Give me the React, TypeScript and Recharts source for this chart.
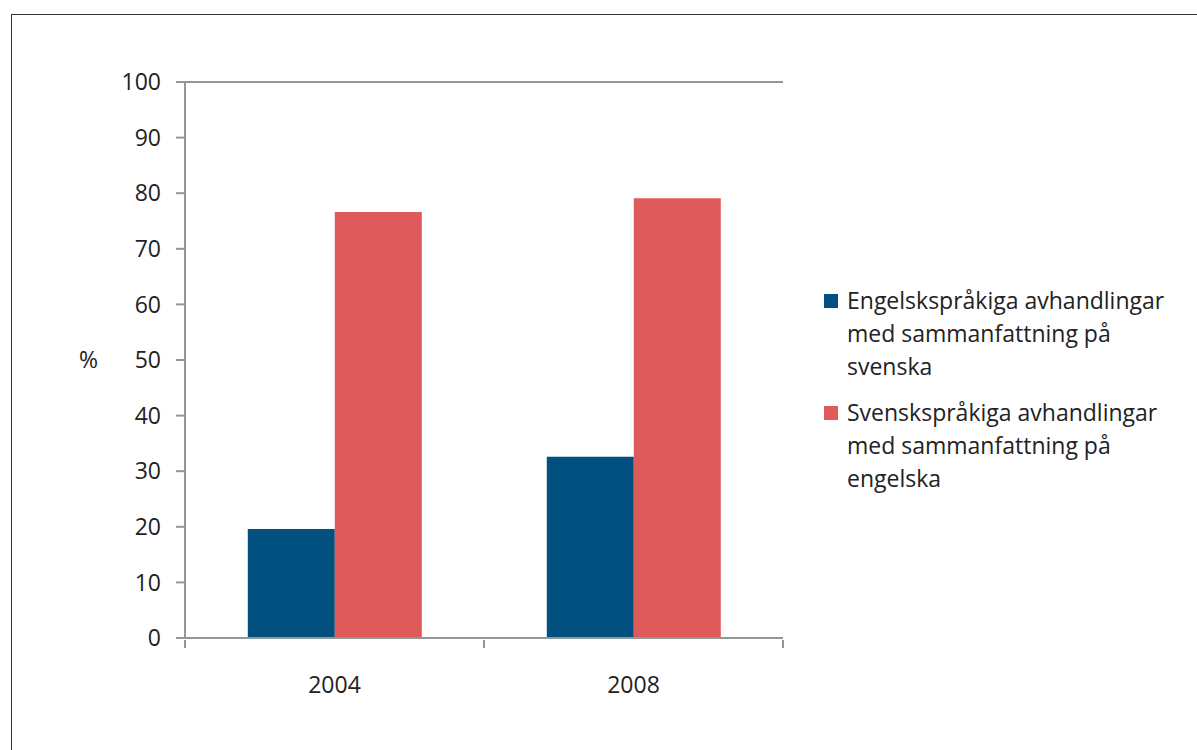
import React from 'react';
import {
  BarChart,
  Bar,
  XAxis,
  YAxis,
  CartesianGrid,
  Legend,
} from 'recharts';

const YEARS = ['2004', '2008'];
const ENG_WITH_SWE = [19.6, 32.6];
const SWE_WITH_ENG = [76.6, 79.1];
const Y_TICKS = [0, 10, 20, 30, 40, 50, 60, 70, 80, 90, 100];

const SERIES_NAMES = {
  eng: 'Engelskspråkiga avhandlingar med sammanfattning på svenska',
  swe: 'Svenskspråkiga avhandlingar med sammanfattning på engelska',
};

const BLUE = '#02507f';
const RED = '#de5a5b';
const GRID = '#8f9797';
const TEXT = '#222';
const FONT = '"Open Sans", "Noto Sans", sans-serif';
const LEGEND_W = 373;

const data = YEARS.map((year, i) => ({
  year,
  eng: ENG_WITH_SWE[i],
  swe: SWE_WITH_ENG[i],
}));

// x ticks sit between categories, like the old spreadsheet style
function YearTick(props: any) {
  const { x, y, payload, index } = props;
  const half = payload.offset ?? 0;
  const last = index === YEARS.length - 1;
  return (
    <g>
      <line x1={x - half} x2={x - half} y1={y} y2={y + 8} stroke={GRID} strokeWidth={2} />
      {last && (
        <line x1={x + half} x2={x + half} y1={y} y2={y + 8} stroke={GRID} strokeWidth={2} />
      )}
      <text x={x} y={y + 53} textAnchor="middle" fill={TEXT} fontSize={23} fontFamily={FONT}>
        {payload.value}
      </text>
    </g>
  );
}

function LegendBox(props: any) {
  const { payload } = props;
  return (
    <div style={{ fontFamily: FONT, fontSize: 23, color: TEXT, lineHeight: '33px' }}>
      {(payload || []).map((item: any) => (
        <div key={item.value} style={{ display: 'flex', alignItems: 'flex-start', marginBottom: 13 }}>
          <div
            style={{
              width: 14,
              height: 14,
              marginTop: 10,
              marginRight: 9,
              flexShrink: 0,
              backgroundColor: item.color,
            }}
          />
          <span style={{ width: 325 }}>{item.value}</span>
        </div>
      ))}
    </div>
  );
}

export default function App() {
  return (
    <div
      style={{
        position: 'absolute',
        left: 0,
        top: 0,
        width: 1197,
        height: 750,
        overflow: 'hidden',
        background: '#fff',
        fontFamily: FONT,
      }}
    >
      <div
        style={{
          position: 'absolute',
          left: 11,
          top: 14,
          width: 1250,
          height: 800,
          border: '1.5px solid #333',
        }}
      />
      <div style={{ position: 'absolute', left: 0, top: 0 }}>
        <BarChart
          width={1197}
          height={750}
          data={data}
          margin={{ top: 82, right: 414 - LEGEND_W, bottom: 72, left: 0 }}
          barCategoryGap="21%"
          barGap={0}
        >
          <CartesianGrid horizontal vertical={false} stroke={GRID} strokeWidth={2} />
          <XAxis
            dataKey="year"
            height={40}
            axisLine={{ stroke: GRID, strokeWidth: 2 }}
            tickLine={false}
            tickSize={0}
            tick={<YearTick />}
            interval={0}
          />
          <YAxis
            yAxisId="left"
            width={185}
            domain={[0, 100]}
            ticks={Y_TICKS}
            interval={0}
            axisLine={{ stroke: GRID, strokeWidth: 2 }}
            tickLine={{ stroke: GRID, strokeWidth: 2 }}
            tickSize={9}
            tickMargin={15}
            tick={{ fill: TEXT, fontSize: 23, fontFamily: FONT }}
            label={{
              value: '%',
              position: 'insideLeft',
              offset: 79,
              fill: TEXT,
              fontSize: 23,
              fontFamily: FONT,
            }}
          />
          <YAxis
            yAxisId="right"
            orientation="right"
            width={0}
            domain={[0, 100]}
            tick={false}
            tickLine={false}
            axisLine={{ stroke: GRID, strokeWidth: 2 }}
          />
          <Legend
            layout="vertical"
            align="right"
            verticalAlign="top"
            content={<LegendBox />}
            width={LEGEND_W}
            wrapperStyle={{ left: 824, top: 284, width: LEGEND_W }}
          />
          <Bar
            yAxisId="left"
            dataKey="eng"
            name={SERIES_NAMES.eng}
            fill={BLUE}
            isAnimationActive={false}
          />
          <Bar
            yAxisId="left"
            dataKey="swe"
            name={SERIES_NAMES.swe}
            fill={RED}
            isAnimationActive={false}
          />
        </BarChart>
      </div>
    </div>
  );
}
